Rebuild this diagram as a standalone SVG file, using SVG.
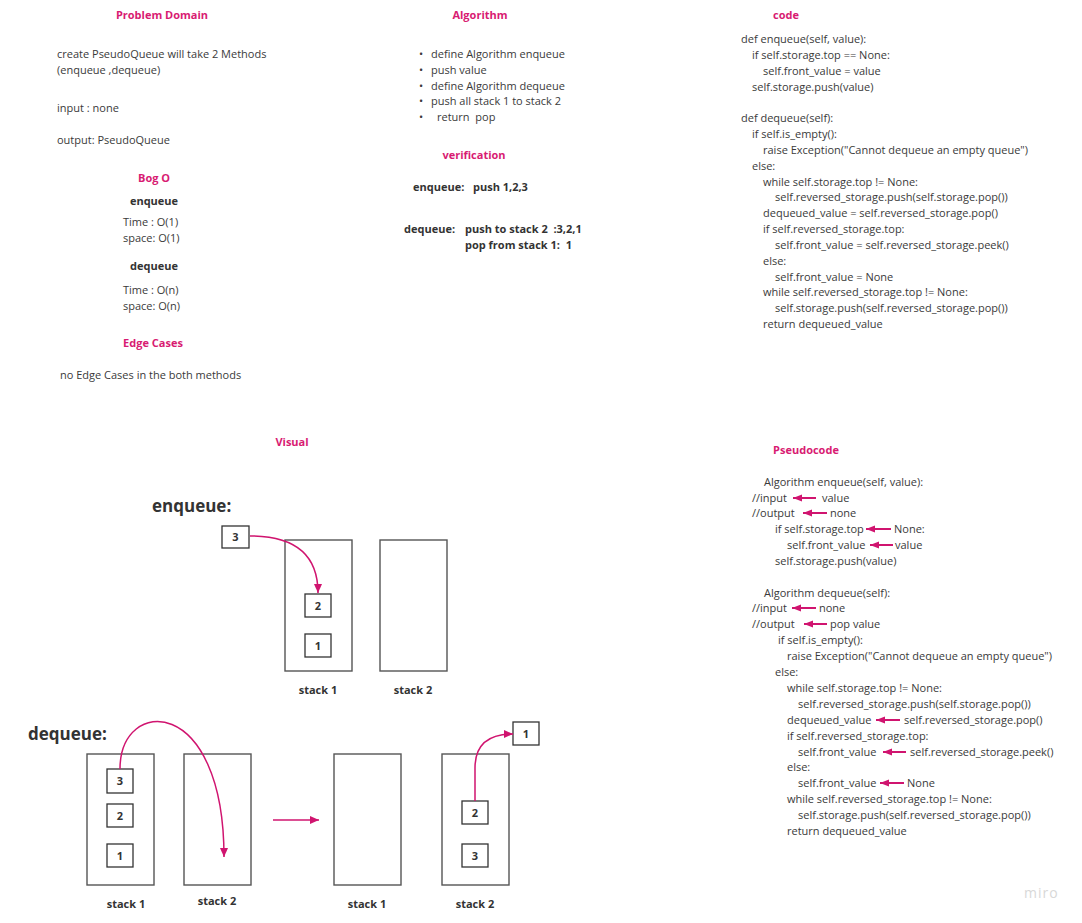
<svg xmlns="http://www.w3.org/2000/svg" width="1082" height="923" viewBox="0 0 1082 923">
<style>
text{font-family:"Open Sans","Liberation Sans",sans-serif;font-size:11px;fill:#3a3a3a;white-space:pre}
.h{font-weight:bold;fill:#d81b72}
.b{font-weight:bold;fill:#333}
.c{text-anchor:middle}
.big{font-size:17px;font-weight:bold;fill:#333}
.stack{fill:#fff;stroke:#555;stroke-width:1.4}
.box{fill:#fff;stroke:#333;stroke-width:1.3}
.arr{fill:none;stroke:#d0146f;stroke-width:1.5}
.parr{fill:none;stroke:#d0146f;stroke-width:2}
.logo{font-size:14px;fill:#d8d8d8;letter-spacing:1px}
</style>
<defs>
<marker id="ah" markerUnits="userSpaceOnUse" markerWidth="10" markerHeight="10" refX="9" refY="5" orient="auto">
<path d="M0,1 L9,5 L0,9 Z" fill="#d0146f"/>
</marker>
<marker id="ahs" markerUnits="userSpaceOnUse" markerWidth="10" markerHeight="10" refX="9" refY="5" orient="auto">
<path d="M0,1.5 L9,5 L0,8.5 Z" fill="#d0146f"/>
</marker>
</defs>
<rect width="1082" height="923" fill="#fff"/>

<g id="problem-domain">
<text class="h c" x="162" y="19">Problem Domain</text>
<text x="57" y="58">create PseudoQueue will take 2 Methods</text>
<text x="57" y="74">(enqueue ,dequeue)</text>
<text x="57" y="112">input : none</text>
<text x="57" y="144">output: PseudoQueue</text>
</g>

<g id="big-o">
<text class="h c" x="154" y="182">Bog O</text>
<text class="b c" x="154" y="205">enqueue</text>
<text x="123" y="226">Time : O(1)</text>
<text x="123" y="242">space: O(1)</text>
<text class="b c" x="154" y="270">dequeue</text>
<text x="123" y="294">Time : O(n)</text>
<text x="123" y="310">space: O(n)</text>
</g>

<g id="edge-cases">
<text class="h c" x="153" y="347">Edge Cases</text>
<text x="60" y="379">no Edge Cases in the both methods</text>
</g>

<g id="algorithm">
<text class="h c" x="480" y="19">Algorithm</text>
<text x="419" y="58">•</text><text x="431" y="58">define Algorithm enqueue</text>
<text x="419" y="74">•</text><text x="431" y="74">push value</text>
<text x="419" y="90">•</text><text x="431" y="90">define Algorithm dequeue</text>
<text x="419" y="105">•</text><text x="431" y="105">push all stack 1 to stack 2</text>
<text x="419" y="121">•</text><text x="437" y="121">return  pop</text>
</g>

<g id="verification">
<text class="h c" x="474" y="159">verification</text>
<text class="b" x="413" y="191">enqueue:</text><text class="b" x="473" y="191">push 1,2,3</text>
<text class="b" x="404" y="233">dequeue:</text><text class="b" x="465" y="233">push to stack 2  :3,2,1</text>
<text class="b" x="465" y="249">pop from stack 1:  1</text>
</g>

<g id="code">
<text class="h c" x="786" y="19">code</text>
<text x="741" y="43">def enqueue(self, value):</text>
<text x="752" y="59">if self.storage.top == None:</text>
<text x="763" y="75">self.front_value = value</text>
<text x="752" y="91">self.storage.push(value)</text>
<text x="741" y="122">def dequeue(self):</text>
<text x="752" y="138">if self.is_empty():</text>
<text x="763" y="154">raise Exception("Cannot dequeue an empty queue")</text>
<text x="752" y="170">else:</text>
<text x="763" y="186">while self.storage.top != None:</text>
<text x="775" y="201">self.reversed_storage.push(self.storage.pop())</text>
<text x="763" y="217">dequeued_value = self.reversed_storage.pop()</text>
<text x="763" y="233">if self.reversed_storage.top:</text>
<text x="775" y="249">self.front_value = self.reversed_storage.peek()</text>
<text x="763" y="265">else:</text>
<text x="775" y="281">self.front_value = None</text>
<text x="763" y="296">while self.reversed_storage.top != None:</text>
<text x="775" y="312">self.storage.push(self.reversed_storage.pop())</text>
<text x="763" y="328">return dequeued_value</text>
</g>

<g id="pseudocode">
<text class="h c" x="806" y="454">Pseudocode</text>
<text x="764" y="486">Algorithm enqueue(self, value):</text>
<text x="752" y="502">//input</text><text x="822" y="502">value</text>
<text x="752" y="517">//output</text><text x="830" y="517">none</text>
<text x="775" y="533">if self.storage.top</text><text x="894" y="533">None:</text>
<text x="787" y="549">self.front_value</text><text x="895" y="549">value</text>
<text x="775" y="565">self.storage.push(value)</text>
<text x="764" y="597">Algorithm dequeue(self):</text>
<text x="752" y="612">//input</text><text x="819" y="612">none</text>
<text x="752" y="628">//output</text><text x="830" y="628">pop value</text>
<text x="778" y="644">if self.is_empty():</text>
<text x="787" y="660">raise Exception("Cannot dequeue an empty queue")</text>
<text x="775" y="676">else:</text>
<text x="787" y="692">while self.storage.top != None:</text>
<text x="798" y="708">self.reversed_storage.push(self.storage.pop())</text>
<text x="787" y="724">dequeued_value</text><text x="904" y="724">self.reversed_storage.pop()</text>
<text x="787" y="740">if self.reversed_storage.top:</text>
<text x="798" y="756">self.front_value</text><text x="910" y="756">self.reversed_storage.peek()</text>
<text x="787" y="771">else:</text>
<text x="798" y="787">self.front_value</text><text x="907" y="787">None</text>
<text x="787" y="803">while self.reversed_storage.top != None:</text>
<text x="798" y="819">self.storage.push(self.reversed_storage.pop())</text>
<text x="787" y="835">return dequeued_value</text>
</g>

<g id="visual-title">
<text class="h c" x="292" y="446">Visual</text>
</g>

<g id="enqueue-visual">
<text class="big" x="152" y="512">enqueue:</text>
<g id="enq-stack1"><rect class="stack" x="285" y="540" width="67" height="131"/><text class="b c" x="318" y="694">stack 1</text></g>
<g id="enq-stack2"><rect class="stack" x="380" y="540" width="67" height="131"/><text class="b c" x="413" y="694">stack 2</text></g>
<g id="enq-box3"><rect class="box" x="222" y="526" width="27" height="22"/><text class="b c" x="235.5" y="541">3</text></g>
<g id="enq-box2"><rect class="box" x="305" y="594" width="26" height="23"/><text class="b c" x="318" y="610">2</text></g>
<g id="enq-box1"><rect class="box" x="305" y="634" width="26" height="23"/><text class="b c" x="318" y="650">1</text></g>
</g>

<g id="dequeue-visual">
<text class="big" x="28" y="740">dequeue:</text>
<g id="deq-stack1"><rect class="stack" x="87" y="754" width="67" height="131"/><text class="b c" x="126" y="908">stack 1</text></g>
<g id="deq-stack2"><rect class="stack" x="184" y="754" width="67" height="131"/><text class="b c" x="217" y="905">stack 2</text></g>
<g id="deq-box3"><rect class="box" x="107" y="769" width="26" height="24"/><text class="b c" x="120" y="785">3</text></g>
<g id="deq-box2"><rect class="box" x="107" y="804" width="26" height="23"/><text class="b c" x="120" y="820">2</text></g>
<g id="deq-box1"><rect class="box" x="107" y="844" width="26" height="23"/><text class="b c" x="120" y="860">1</text></g>
<g id="res-stack1"><rect class="stack" x="334" y="754" width="67" height="131"/><text class="b c" x="367" y="908">stack 1</text></g>
<g id="res-stack2"><rect class="stack" x="442" y="754" width="67" height="131"/><text class="b c" x="475" y="908">stack 2</text></g>
<g id="res-box2"><rect class="box" x="462" y="801" width="26" height="23"/><text class="b c" x="475" y="817">2</text></g>
<g id="res-box3"><rect class="box" x="462" y="844" width="26" height="23"/><text class="b c" x="475" y="860">3</text></g>
<g id="res-box1"><rect class="box" x="513" y="722" width="26" height="23"/><text class="b c" x="526" y="738">1</text></g>
</g>

<g id="connectors">
<path class="arr" d="M250,536 C296,536 318,556 318,593" marker-end="url(#ah)"/>
<path class="arr" d="M120,769 C120,696 224,694 224,857" marker-end="url(#ah)"/>
<path class="arr" d="M273,820 L319,820" marker-end="url(#ah)"/>
<path class="arr" d="M475,801 L475,768 C475,745 488,734 513,734" marker-end="url(#ah)"/>
<path class="parr" d="M816,498 L793,498" marker-end="url(#ahs)"/>
<path class="parr" d="M827,513 L803,513" marker-end="url(#ahs)"/>
<path class="parr" d="M891,529 L866,529" marker-end="url(#ahs)"/>
<path class="parr" d="M893,545 L870,545" marker-end="url(#ahs)"/>
<path class="parr" d="M816,608 L792,608" marker-end="url(#ahs)"/>
<path class="parr" d="M827,624 L804,624" marker-end="url(#ahs)"/>
<path class="parr" d="M900,720 L876,720" marker-end="url(#ahs)"/>
<path class="parr" d="M906,752 L883,752" marker-end="url(#ahs)"/>
<path class="parr" d="M904,783 L880,783" marker-end="url(#ahs)"/>
</g>

<g id="logo">
<text class="logo" x="1024" y="898">miro</text>
</g>
</svg>
